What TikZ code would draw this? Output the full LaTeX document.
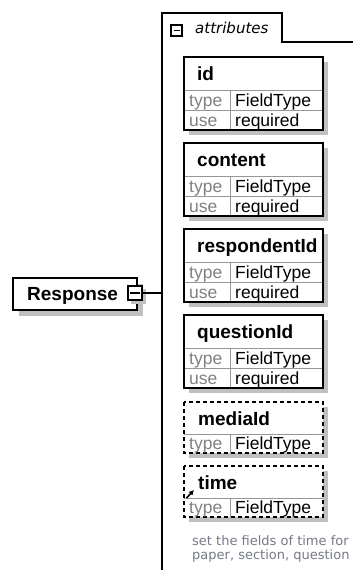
\documentclass[tikz,border=0pt]{standalone}
\usepackage{fontspec}
\setmainfont{Liberation Sans}
\newfontfamily\dvsans{DejaVu Sans}[ItalicFont={DejaVu Sans Oblique}]
\usetikzlibrary{arrows.meta}
\definecolor{shadowgray}{RGB}{192,192,192}
\definecolor{gridgray}{RGB}{150,150,150}
\definecolor{labelgray}{RGB}{128,128,128}
\definecolor{annotcol}{RGB}{118,122,135}
\tikzset{
  attrfill/.style={fill=white,inner sep=0pt,outer sep=0pt,anchor=north west,minimum width=139pt},
  framesolid/.style={draw=black,line width=1.5pt},
  framedash/.style={draw=black,line width=1.3pt,dash pattern=on 4pt off 3pt},
  gridline/.style={draw=gridgray,line width=0.9pt},
  hdr/.style={font=\fontsize{19}{22}\selectfont\bfseries,inner sep=0pt,anchor=base west},
  rowlbl/.style={font=\fontsize{17.5}{20}\selectfont,text=labelgray,inner sep=0pt,anchor=base west},
  rowval/.style={font=\fontsize{17.5}{20}\selectfont,text=black,inner sep=0pt,anchor=base west},
  expander/.style={draw=black,fill=white,line width=1.5pt,inner sep=0pt,outer sep=0pt},
  conn/.style={draw=black,line width=1.2pt},
}
\newcommand\reqattr[3]{%
  \fill[shadowgray] (189,#2+5) rectangle (328,#2+78);
  \node[attrfill,minimum height=73pt] (#1) at (184,#2) {};
  \draw[gridline] (184,#2+33) -- (323,#2+33);
  \draw[gridline] (184,#2+53) -- (323,#2+53);
  \draw[gridline] (230,#2+33) -- (230,#2+73);
  \draw[framesolid] (#1.north west) rectangle (#1.south east);
  \node[hdr] (#1-h) at (197,#2+23.5) {#3};
  \node[rowlbl] (#1-tl) at (189,#2+49) {type};
  \node[rowval] (#1-tv) at (235,#2+49) {FieldType};
  \node[rowlbl] (#1-ul) at (189,#2+69) {use};
  \node[rowval] (#1-uv) at (235,#2+69) {required};
}
\newcommand\optattr[3]{%
  \fill[shadowgray] (189,#2+5) rectangle (328,#2+56);
  \node[attrfill,minimum height=51pt] (#1) at (184,#2) {};
  \draw[gridline] (184,#2+32) -- (323,#2+32);
  \draw[gridline] (230,#2+32) -- (230,#2+51);
  \draw[framedash] (#1.north west) rectangle (#1.south east);
  \node[hdr] (#1-h) at (198,#2+23) {#3};
  \node[rowlbl] (#1-tl) at (189,#2+47.5) {type};
  \node[rowval] (#1-tv) at (235,#2+47.5) {FieldType};
}
\begin{document}
\begin{tikzpicture}[x=1pt,y=-1pt]
\useasboundingbox[fill=white] (0,0) rectangle (353,570);
% attributes compartment
\draw[conn] (162,570) -- (162,13) -- (282,13) -- (282,42) -- (353,42);
\node[expander,minimum size=11pt] (tabminus) at (176.5,30.5) {};
\draw[line width=1.2pt] ([xshift=2.5pt]tabminus.west) -- ([xshift=-2.5pt]tabminus.east);
\node[inner sep=0pt,anchor=base west,font=\dvsans\itshape\fontsize{15}{18}\selectfont] (attrlbl) at (195,33) {attributes};
% attribute boxes
\reqattr{id}{57}{id}
\reqattr{content}{143}{content}
\reqattr{respondent}{229}{respondentId}
\reqattr{question}{315}{questionId}
\optattr{media}{402}{mediaId}
\optattr{time}{466}{time}
\draw[line width=1.6pt,-{Latex[length=5pt,width=5.5pt]}] (186.5,498) -- (194,490);
\node[inner sep=0pt,anchor=north west,align=left,text=annotcol,font=\dvsans\fontsize{13}{14}\selectfont] (annot) at (192,535) {set the fields of time for\\paper, section, question};
% Response element
\fill[shadowgray] (19,284) rectangle (143,316);
\node[draw=black,fill=white,line width=1.5pt,inner sep=0pt,outer sep=0pt,anchor=north west,minimum width=124pt,minimum height=32pt] (resp) at (13,278) {};
\node[hdr] (resp-l) at (27,300) {Response};
\fill[shadowgray] (131,289) rectangle (146,304);
\node[expander,minimum size=14pt] (respminus) at (135,293) {};
\draw[line width=1.2pt] ([xshift=2pt]respminus.west) -- ([xshift=-2pt]respminus.east);
\coordinate (attrline) at (162,293);
\draw[conn] (respminus.east) -- (attrline);
\end{tikzpicture}
\end{document}
